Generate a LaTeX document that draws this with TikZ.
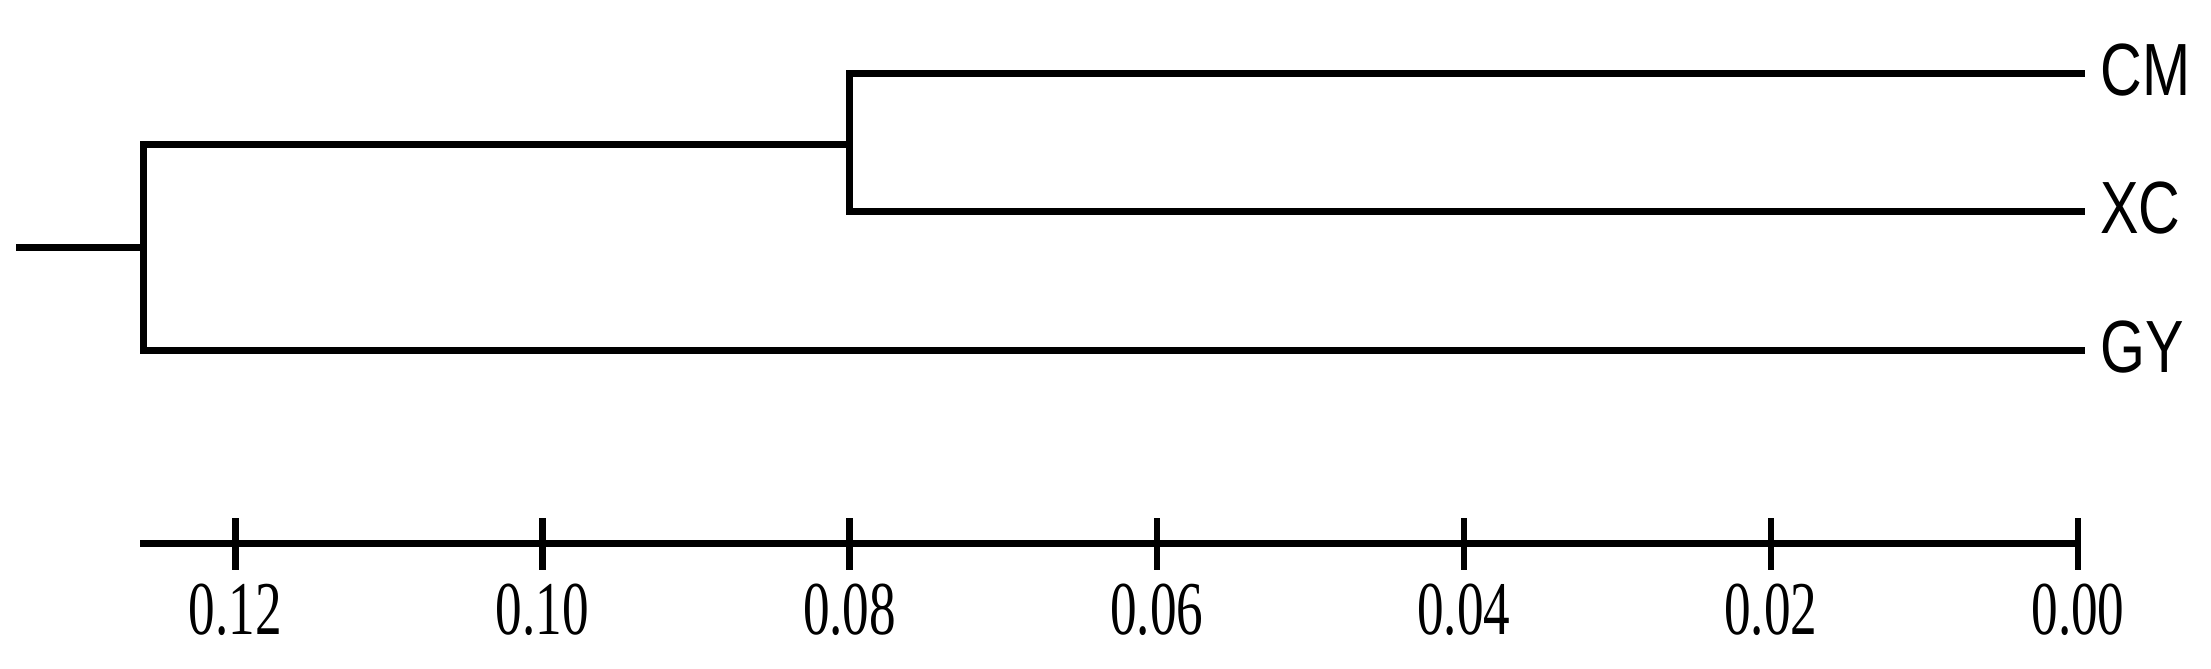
\documentclass[tikz,border=0pt]{standalone}
\usepackage{fontspec}
\newfontfamily\labfont{Liberation Sans}
\newfontfamily\numfont{Liberation Serif}
\begin{document}
\begin{tikzpicture}[x=0.5pt,y=-0.5pt,
  branch/.style={line width=3.5pt, line join=miter, line cap=rect},
  axisline/.style={line width=3.5pt},
  tickline/.style={line width=3.2pt},
  leaf/.style={anchor=base west, inner sep=0pt, font=\labfont\fontsize{37pt}{37pt}\selectfont},
  ticklab/.style={anchor=base, inner sep=0pt, font=\numfont\fontsize{38pt}{38pt}\selectfont}]
\useasboundingbox (0,0) rectangle (2211,669);
% tree coordinates
\coordinate (root) at (19,247);
\coordinate (n1) at (143,247);
\coordinate (n1t) at (143,144);
\coordinate (n1b) at (143,350);
\coordinate (n2) at (849,144);
\coordinate (n2t) at (849,73);
\coordinate (n2b) at (849,211);
\coordinate (cm) at (2081,73);
\coordinate (xc) at (2081,211);
\coordinate (gy) at (2081,350);
\draw[branch] (root) -- (n1);
\draw[branch] (n2) -- (n1t) -- (n1b) -- (gy);
\draw[branch] (cm) -- (n2t) -- (n2b) -- (xc);
% leaf labels
\node[leaf] (lcm) at (2100,95) {\scalebox{0.78}[1]{CM}};
\node[leaf] (lxc) at (2100,233) {\scalebox{0.78}[1]{XC}};
\node[leaf] (lgy) at (2100,372) {\scalebox{0.78}[1]{GY}};
% axis
\coordinate (a0) at (140,543);
\coordinate (a1) at (2078,543);
\draw[axisline] (a0) -- (a1);
\foreach \i/\lab in {0/0.00,1/0.02,2/0.04,3/0.06,4/0.08,5/0.10,6/0.12}{
  \pgfmathsetmacro{\tx}{2078-\i*307.1}
  \coordinate (t\i) at (\tx,518);
  \coordinate (b\i) at (\tx,570);
  \draw[tickline] (t\i) -- (b\i);
  \node[ticklab] (l\i) at (\tx,634) {\scalebox{0.7}[1]{\lab}};
}
\end{tikzpicture}
\end{document}
